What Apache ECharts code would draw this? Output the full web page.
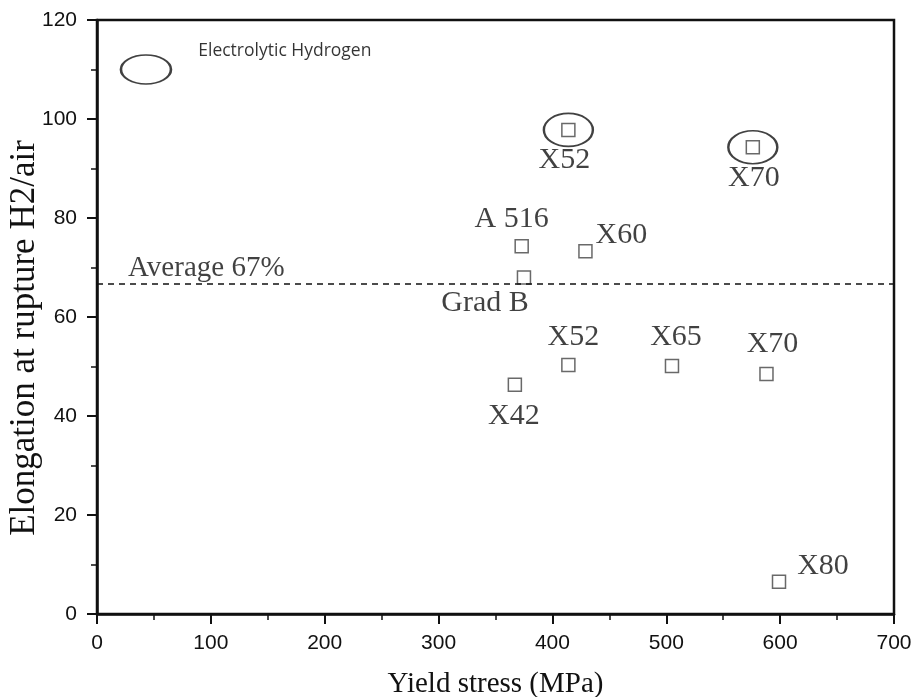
<!DOCTYPE html>
<html>
<head>
<meta charset="utf-8">
<script src="https://cdn.jsdelivr.net/npm/echarts@6/dist/echarts.min.js"></script>
<style>html,body{margin:0;padding:0;background:#fff}#c{width:918px;height:697px}</style>
</head>
<body>
<div id="c"></div>
<script>
// Data
const yieldStress = [414, 576, 373, 429, 375, 414, 505, 588, 367, 599];
const elongation = [97.8, 94.3, 74.3, 73.3, 68.0, 50.3, 50.1, 48.5, 46.3, 6.5];
const gradeLabels = ['X52', 'X70', 'A 516', 'X60', 'Grad B', 'X52', 'X65', 'X70', 'X42', 'X80'];
const circledIdx = [0, 1];           // points tested in electrolytic hydrogen
const legendPoint = [43, 110];       // position of legend ellipse
const legendText = 'Electrolytic Hydrogen';
const averageValue = 66.8;
const averageLabel = 'Average 67%';
const xTicks = { min: 0, max: 700, interval: 100 };
const yTicks = { min: 0, max: 120, interval: 20 };

// label offsets (style only)
const labelOffsets = [[-4, 30], [1, 31], [-10, -27], [36, -16], [-39, 26], [5, -28], [4, -29], [6, -30], [-1, 31], [44, -16]];

const serif = '"Liberation Serif", "DejaVu Serif", serif';
const sans = '"Liberation Sans", Arial, sans-serif';
const ink = '#111';

const pointData = yieldStress.map((x, i) => ({
  value: [x, elongation[i]],
  label: { show: true, formatter: gradeLabels[i], position: 'inside', offset: labelOffsets[i] }
}));

const chart = echarts.init(document.getElementById('c'), null, { renderer: 'canvas' });
chart.setOption({
  animation: false,
  backgroundColor: '#fff',
  grid: { left: 97, right: 24, top: 20, bottom: 83, containLabel: false, outerBoundsMode: 'none',
          show: true, borderColor: '#111', borderWidth: 2.5, backgroundColor: 'transparent' },
  xAxis: {
    type: 'value', min: xTicks.min, max: xTicks.max, interval: xTicks.interval,
    name: 'Yield stress (MPa)', nameLocation: 'middle', nameGap: 56, nameMoveOverlap: false,
    nameTextStyle: { fontFamily: serif, fontSize: 29, color: ink },
    axisLine: { show: true, onZero: false, lineStyle: { color: '#111', width: 2.5 } },
    axisTick: { show: true, inside: false, length: 10, lineStyle: { color: '#111', width: 2 } },
    minorTick: { show: true, splitNumber: 2, length: 6, lineStyle: { color: '#111', width: 1.5 } },
    axisLabel: { fontFamily: sans, fontSize: 21, color: ink, margin: 19 },
    splitLine: { show: false }
  },
  yAxis: {
    type: 'value', min: yTicks.min, max: yTicks.max, interval: yTicks.interval,
    name: 'Elongation at rupture H2/air', nameLocation: 'middle', nameGap: 55, nameMoveOverlap: false,
    nameTextStyle: { fontFamily: serif, fontSize: 35, color: ink, padding: [0, 42, 0, 0] },
    axisLine: { show: true, onZero: false, lineStyle: { color: '#111', width: 2.5 } },
    axisTick: { show: true, inside: false, length: 10, lineStyle: { color: '#111', width: 2 } },
    minorTick: { show: true, splitNumber: 2, length: 6, lineStyle: { color: '#111', width: 1.5 } },
    axisLabel: { fontFamily: sans, fontSize: 21, color: ink, margin: 20 },
    splitLine: { show: false }
  },
  series: [
    {
      type: 'scatter',
      symbol: 'rect', symbolSize: 13,
      itemStyle: { color: '#fff', borderColor: '#444', borderWidth: 1.5 },
      label: { color: ink, fontFamily: serif, fontSize: 30 },
      data: pointData,
      z: 3,
      markLine: {
        silent: true, symbol: 'none',
        lineStyle: { color: '#111', type: [6, 5], width: 1.6 },
        label: { show: false },
        data: [{ yAxis: averageValue }]
      }
    },
    {
      type: 'scatter',
      symbol: 'circle', symbolSize: [49, 33],
      itemStyle: { color: 'transparent', borderColor: '#111', borderWidth: 2 },
      data: circledIdx.map(i => [yieldStress[i], elongation[i]]),
      z: 2
    },
    {
      type: 'scatter',
      symbol: 'circle', symbolSize: [50, 29],
      itemStyle: { color: 'transparent', borderColor: '#111', borderWidth: 2 },
      label: {
        show: true, formatter: legendText, position: 'right', distance: 26, offset: [0, -18],
        fontFamily: '"Open Sans", "Noto Sans", sans-serif', fontSize: 17.5, color: '#000'
      },
      data: [legendPoint]
    },
    {
      type: 'scatter', symbolSize: 0,
      label: { show: true, formatter: averageLabel, position: 'inside', color: ink, fontFamily: serif, fontSize: 29, offset: [0, -15] },
      data: [[96, averageValue]]
    }
  ]
});
</script>
</body>
</html>
